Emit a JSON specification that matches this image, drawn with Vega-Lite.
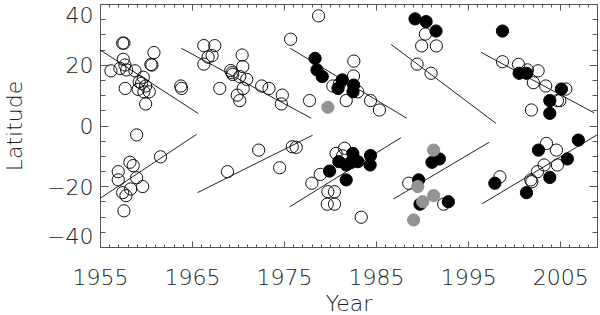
{
  "$schema": "https://vega.github.io/schema/vega-lite/v6.json",
  "width": 497,
  "height": 243,
  "autosize": {"type": "none"},
  "padding": {"left": 100, "top": 4, "right": 3, "bottom": 68},
  "background": "white",
  "config": {
    "view": {"stroke": null},
    "axis": {
      "grid": false,
      "domainColor": "#555",
      "tickColor": "#555",
      "domainWidth": 1,
      "tickWidth": 1,
      "labelFont": "DejaVu Sans",
      "titleFont": "DejaVu Sans",
      "labelFontSize": 22,
      "titleFontSize": 22,
      "labelFontWeight": 200,
      "titleFontWeight": 200,
      "labelColor": "#222",
      "titleColor": "#222"
    }
  },
  "datasets": {
    "pts": [
      {"year": 1956.19, "lat": 18.0, "type": "open"},
      {"year": 1957.17, "lat": 18.8, "type": "open"},
      {"year": 1957.46, "lat": 27.1, "type": "open"},
      {"year": 1957.60, "lat": 27.1, "type": "open"},
      {"year": 1957.53, "lat": 21.8, "type": "open"},
      {"year": 1957.71, "lat": 19.9, "type": "open"},
      {"year": 1957.90, "lat": 18.3, "type": "open"},
      {"year": 1957.74, "lat": 12.2, "type": "open"},
      {"year": 1958.80, "lat": 18.0, "type": "open"},
      {"year": 1959.26, "lat": 14.4, "type": "open"},
      {"year": 1959.15, "lat": 11.9, "type": "open"},
      {"year": 1959.70, "lat": 15.9, "type": "open"},
      {"year": 1959.52, "lat": 13.9, "type": "open"},
      {"year": 1959.96, "lat": 13.0, "type": "open"},
      {"year": 1959.77, "lat": 11.1, "type": "open"},
      {"year": 1960.35, "lat": 11.1, "type": "open"},
      {"year": 1959.96, "lat": 7.1, "type": "open"},
      {"year": 1960.86, "lat": 24.0, "type": "open"},
      {"year": 1960.53, "lat": 20.1, "type": "open"},
      {"year": 1960.64, "lat": 19.9, "type": "open"},
      {"year": 1963.78, "lat": 13.0, "type": "open"},
      {"year": 1963.86, "lat": 12.2, "type": "open"},
      {"year": 1966.28, "lat": 26.3, "type": "open"},
      {"year": 1967.47, "lat": 26.3, "type": "open"},
      {"year": 1966.74, "lat": 22.5, "type": "open"},
      {"year": 1967.18, "lat": 23.0, "type": "open"},
      {"year": 1966.28, "lat": 20.2, "type": "open"},
      {"year": 1968.01, "lat": 12.2, "type": "open"},
      {"year": 1969.21, "lat": 18.1, "type": "open"},
      {"year": 1969.35, "lat": 17.4, "type": "open"},
      {"year": 1969.42, "lat": 16.8, "type": "open"},
      {"year": 1970.44, "lat": 23.2, "type": "open"},
      {"year": 1970.51, "lat": 19.4, "type": "open"},
      {"year": 1970.18, "lat": 16.1, "type": "open"},
      {"year": 1970.94, "lat": 15.2, "type": "open"},
      {"year": 1970.56, "lat": 12.2, "type": "open"},
      {"year": 1969.91, "lat": 10.0, "type": "open"},
      {"year": 1970.18, "lat": 8.2, "type": "open"},
      {"year": 1972.57, "lat": 13.0, "type": "open"},
      {"year": 1973.36, "lat": 12.2, "type": "open"},
      {"year": 1974.81, "lat": 10.0, "type": "open"},
      {"year": 1974.70, "lat": 7.1, "type": "open"},
      {"year": 1975.71, "lat": 28.4, "type": "open"},
      {"year": 1978.75, "lat": 36.1, "type": "open"},
      {"year": 1977.77, "lat": 8.2, "type": "open"},
      {"year": 1982.58, "lat": 21.2, "type": "open"},
      {"year": 1982.54, "lat": 16.3, "type": "open"},
      {"year": 1980.30, "lat": 13.0, "type": "open"},
      {"year": 1981.00, "lat": 13.6, "type": "open"},
      {"year": 1981.75, "lat": 8.2, "type": "open"},
      {"year": 1983.00, "lat": 11.1, "type": "open"},
      {"year": 1984.39, "lat": 8.2, "type": "open"},
      {"year": 1985.36, "lat": 5.1, "type": "open"},
      {"year": 1990.35, "lat": 30.1, "type": "open"},
      {"year": 1989.95, "lat": 26.2, "type": "open"},
      {"year": 1991.54, "lat": 26.2, "type": "open"},
      {"year": 1989.45, "lat": 20.2, "type": "open"},
      {"year": 1990.97, "lat": 17.2, "type": "open"},
      {"year": 1998.73, "lat": 21.0, "type": "open"},
      {"year": 2000.47, "lat": 20.1, "type": "open"},
      {"year": 2001.44, "lat": 18.3, "type": "open"},
      {"year": 2002.60, "lat": 18.0, "type": "open"},
      {"year": 2002.09, "lat": 14.1, "type": "open"},
      {"year": 2003.43, "lat": 13.0, "type": "open"},
      {"year": 2005.61, "lat": 12.0, "type": "open"},
      {"year": 2004.70, "lat": 8.2, "type": "open"},
      {"year": 2004.96, "lat": 8.2, "type": "open"},
      {"year": 2001.87, "lat": 5.1, "type": "open"},
      {"year": 1958.98, "lat": -3.1, "type": "open"},
      {"year": 1956.98, "lat": -15.2, "type": "open"},
      {"year": 1956.98, "lat": -17.9, "type": "open"},
      {"year": 1958.25, "lat": -12.1, "type": "open"},
      {"year": 1958.61, "lat": -13.2, "type": "open"},
      {"year": 1958.98, "lat": -17.2, "type": "open"},
      {"year": 1959.63, "lat": -20.1, "type": "open"},
      {"year": 1958.33, "lat": -20.9, "type": "open"},
      {"year": 1957.46, "lat": -22.1, "type": "open"},
      {"year": 1957.82, "lat": -23.1, "type": "open"},
      {"year": 1957.60, "lat": -28.1, "type": "open"},
      {"year": 1961.58, "lat": -10.3, "type": "open"},
      {"year": 1968.85, "lat": -15.2, "type": "open"},
      {"year": 1972.24, "lat": -8.1, "type": "open"},
      {"year": 1974.52, "lat": -13.9, "type": "open"},
      {"year": 1975.89, "lat": -7.0, "type": "open"},
      {"year": 1976.32, "lat": -7.2, "type": "open"},
      {"year": 1978.02, "lat": -19.0, "type": "open"},
      {"year": 1978.93, "lat": -16.1, "type": "open"},
      {"year": 1980.65, "lat": -9.2, "type": "open"},
      {"year": 1981.57, "lat": -7.5, "type": "open"},
      {"year": 1981.35, "lat": -10.0, "type": "open"},
      {"year": 1979.76, "lat": -21.8, "type": "open"},
      {"year": 1980.48, "lat": -21.8, "type": "open"},
      {"year": 1979.69, "lat": -25.9, "type": "open"},
      {"year": 1980.48, "lat": -25.9, "type": "open"},
      {"year": 1983.38, "lat": -30.2, "type": "open"},
      {"year": 1988.54, "lat": -19.0, "type": "open"},
      {"year": 1992.34, "lat": -25.9, "type": "open"},
      {"year": 1998.45, "lat": -16.9, "type": "open"},
      {"year": 2003.51, "lat": -5.9, "type": "open"},
      {"year": 2004.59, "lat": -8.1, "type": "open"},
      {"year": 2003.25, "lat": -13.0, "type": "open"},
      {"year": 2004.70, "lat": -13.0, "type": "open"},
      {"year": 2002.53, "lat": -15.2, "type": "open"},
      {"year": 2001.81, "lat": -17.9, "type": "open"},
      {"year": 2001.92, "lat": -18.5, "type": "open"},
      {"year": 1978.37, "lat": 22.1, "type": "filled"},
      {"year": 1978.58, "lat": 18.3, "type": "filled"},
      {"year": 1979.15, "lat": 16.1, "type": "filled"},
      {"year": 1981.32, "lat": 15.0, "type": "filled"},
      {"year": 1980.86, "lat": 12.2, "type": "filled"},
      {"year": 1982.56, "lat": 13.3, "type": "filled"},
      {"year": 1982.49, "lat": 11.1, "type": "filled"},
      {"year": 1989.23, "lat": 35.1, "type": "filled"},
      {"year": 1990.43, "lat": 34.2, "type": "filled"},
      {"year": 1991.51, "lat": 31.1, "type": "filled"},
      {"year": 1998.73, "lat": 31.1, "type": "filled"},
      {"year": 2000.54, "lat": 17.2, "type": "filled"},
      {"year": 2001.34, "lat": 17.2, "type": "filled"},
      {"year": 2005.13, "lat": 12.0, "type": "filled"},
      {"year": 2003.87, "lat": 8.2, "type": "filled"},
      {"year": 2003.87, "lat": 4.0, "type": "filled"},
      {"year": 1979.94, "lat": -15.0, "type": "filled"},
      {"year": 1980.95, "lat": -11.9, "type": "filled"},
      {"year": 1981.75, "lat": -13.0, "type": "filled"},
      {"year": 1982.20, "lat": -12.3, "type": "filled"},
      {"year": 1982.47, "lat": -9.2, "type": "filled"},
      {"year": 1983.01, "lat": -11.9, "type": "filled"},
      {"year": 1984.39, "lat": -9.9, "type": "filled"},
      {"year": 1984.35, "lat": -13.0, "type": "filled"},
      {"year": 1981.75, "lat": -17.9, "type": "filled"},
      {"year": 1991.07, "lat": -12.1, "type": "filled"},
      {"year": 1991.87, "lat": -11.0, "type": "filled"},
      {"year": 1989.62, "lat": -17.9, "type": "filled"},
      {"year": 1989.77, "lat": -25.9, "type": "filled"},
      {"year": 1992.85, "lat": -25.1, "type": "filled"},
      {"year": 1997.90, "lat": -19.0, "type": "filled"},
      {"year": 2002.64, "lat": -8.1, "type": "filled"},
      {"year": 2006.97, "lat": -4.8, "type": "filled"},
      {"year": 2005.78, "lat": -11.0, "type": "filled"},
      {"year": 2003.87, "lat": -17.1, "type": "filled"},
      {"year": 2001.34, "lat": -22.1, "type": "filled"},
      {"year": 1979.76, "lat": 6.0, "type": "gray"},
      {"year": 1991.25, "lat": -8.1, "type": "gray"},
      {"year": 1989.52, "lat": -20.1, "type": "gray"},
      {"year": 1990.06, "lat": -25.1, "type": "gray"},
      {"year": 1991.25, "lat": -23.1, "type": "gray"},
      {"year": 1989.08, "lat": -31.1, "type": "gray"}
    ],
    "fits": [
      {"cycle": "N19", "x1": 1955.0, "y1": 24.9, "x2": 1965.7, "y2": 3.9},
      {"cycle": "N20", "x1": 1963.85, "y1": 25.4, "x2": 1977.95, "y2": 2.4},
      {"cycle": "N21", "x1": 1975.68, "y1": 25.4, "x2": 1988.32, "y2": 2.4},
      {"cycle": "N22", "x1": 1986.63, "y1": 26.7, "x2": 1998.02, "y2": 0.7},
      {"cycle": "N23", "x1": 1996.39, "y1": 24.1, "x2": 2008.68, "y2": 4.2},
      {"cycle": "S19", "x1": 1955.0, "y1": -24.0, "x2": 1965.5, "y2": -2.9},
      {"cycle": "S20", "x1": 1965.6, "y1": -22.1, "x2": 1978.1, "y2": -3.2},
      {"cycle": "S21", "x1": 1975.6, "y1": -26.8, "x2": 1987.7, "y2": -4.0},
      {"cycle": "S22", "x1": 1986.88, "y1": -24.2, "x2": 1997.29, "y2": -5.5},
      {"cycle": "S23", "x1": 1996.5, "y1": -25.8, "x2": 2009.0, "y2": -3.1}
    ]
  },
  "layer": [
    {
      "mark": {"type": "rule", "color": "#8a8a8a", "strokeWidth": 1, "strokeDash": [10, 5]},
      "encoding": {
        "y": {"datum": 0, "type": "quantitative", "scale": {"domain": [-40, 40], "nice": false, "zero": false}, "axis": null}
      }
    },
    {
      "data": {"name": "fits"},
      "mark": {"type": "rule", "color": "#222", "strokeWidth": 1},
      "encoding": {
        "x": {"field": "x1", "type": "quantitative", "scale": {"domain": [1955, 2009], "nice": false, "zero": false},
          "axis": {"orient": "top", "labels": false, "title": null,
            "values": [1955,1956,1957,1958,1959,1960,1961,1962,1963,1964,1965,1966,1967,1968,1969,1970,1971,1972,1973,1974,1975,1976,1977,1978,1979,1980,1981,1982,1983,1984,1985,1986,1987,1988,1989,1990,1991,1992,1993,1994,1995,1996,1997,1998,1999,2000,2001,2002,2003,2004,2005,2006,2007,2008,2009],
            "tickSize": {"condition": {"test": "datum.value % 10 == 5", "value": -6}, "value": -3}}},
        "x2": {"field": "x2"},
        "y": {"field": "y1", "type": "quantitative",
          "axis": {"orient": "right", "labels": false, "title": null,
            "values": [-40,-35,-30,-25,-20,-15,-10,-5,0,5,10,15,20,25,30,35,40],
            "tickSize": {"condition": {"test": "datum.value % 20 == 0", "value": -8}, "value": -5}}},
        "y2": {"field": "y2"}
      }
    },
    {
      "data": {"name": "pts"},
      "mark": {"type": "point", "shape": "circle", "size": 150, "strokeWidth": 1, "opacity": 1},
      "encoding": {
        "x": {"field": "year", "type": "quantitative",
          "axis": {"orient": "bottom", "title": "Year", "labelFlush": false,
            "values": [1955,1956,1957,1958,1959,1960,1961,1962,1963,1964,1965,1966,1967,1968,1969,1970,1971,1972,1973,1974,1975,1976,1977,1978,1979,1980,1981,1982,1983,1984,1985,1986,1987,1988,1989,1990,1991,1992,1993,1994,1995,1996,1997,1998,1999,2000,2001,2002,2003,2004,2005,2006,2007,2008,2009],
            "labelExpr": "datum.value % 10 == 5 ? datum.label : ''",
            "format": "d",
            "labelOverlap": false,
            "labelPadding": 26,
            "titlePadding": 2,
            "tickSize": {"condition": {"test": "datum.value % 10 == 5", "value": -6}, "value": -3}}},
        "y": {"field": "lat", "type": "quantitative",
          "axis": {"orient": "left", "title": "Latitude", "labelFlush": true,
            "values": [-40,-35,-30,-25,-20,-15,-10,-5,0,5,10,15,20,25,30,35,40],
            "labelExpr": "datum.value % 20 == 0 ? datum.label : ''",
            "labelOverlap": false,
            "labelPadding": 15,
            "labelOffset": 1,
            "titlePadding": 20,
            "tickSize": {"condition": {"test": "datum.value % 20 == 0", "value": -8}, "value": -5}}},
        "fill": {"field": "type", "type": "nominal", "scale": {"domain": ["open", "filled", "gray"], "range": ["transparent", "#000000", "#939393"]}, "legend": null},
        "stroke": {"field": "type", "type": "nominal", "scale": {"domain": ["open", "filled", "gray"], "range": ["#111111", "#000000", "#939393"]}, "legend": null}
      }
    }
  ],
  "resolve": {"axis": {"x": "independent", "y": "independent"}}
}
